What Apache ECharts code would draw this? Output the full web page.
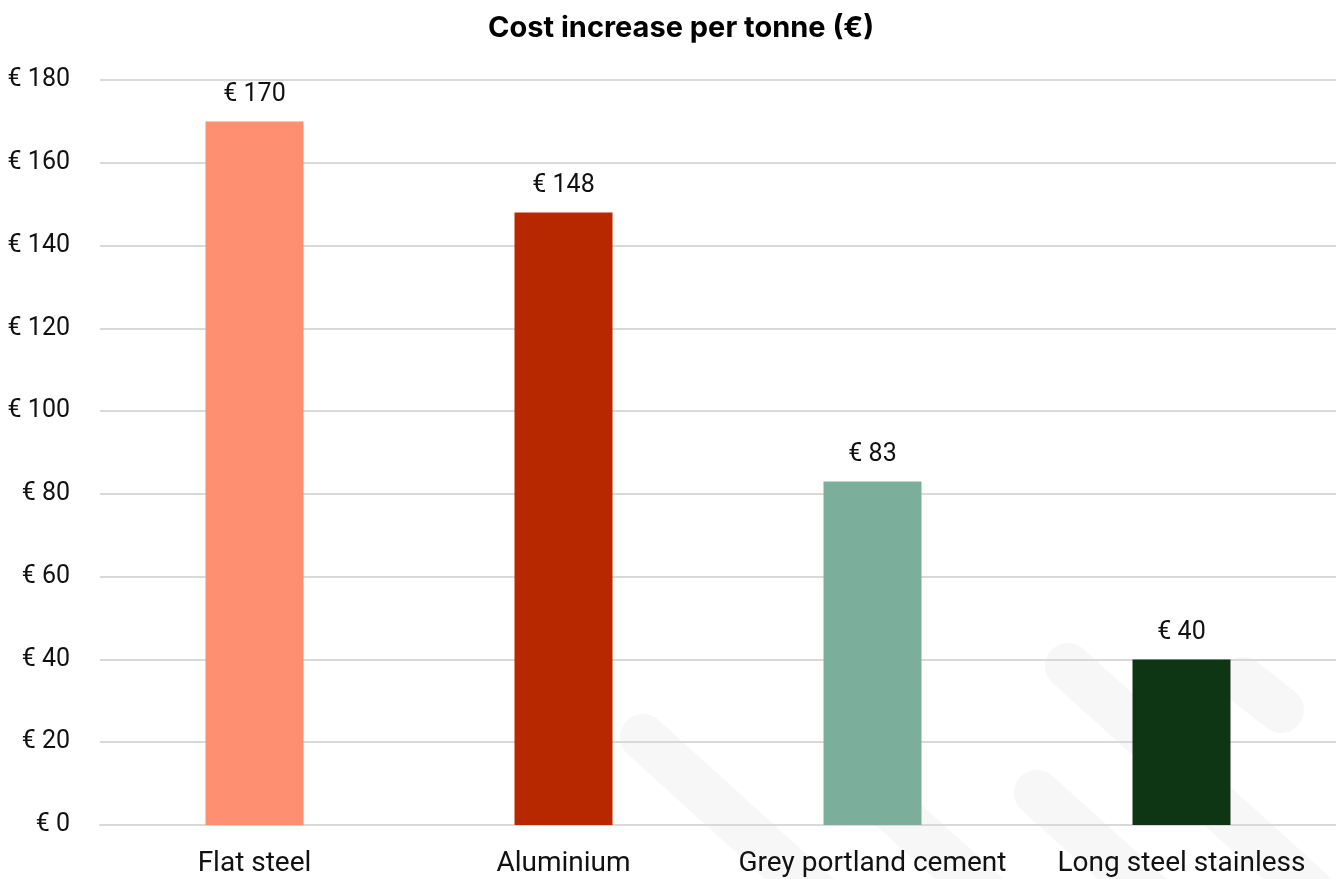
<!DOCTYPE html>
<html>
<head>
<meta charset="utf-8">
<script src="https://cdn.jsdelivr.net/npm/echarts@6/dist/echarts.min.js"></script>
<style>
  html, body { margin: 0; padding: 0; background: #ffffff; }
  #chart { width: 1336px; height: 879px; }
</style>
</head>
<body>
<div id="chart"></div>
<script>
// Cost increase per tonne by material
const categories = ['Flat steel', 'Aluminium', 'Grey portland cement', 'Long steel stainless'];
const costIncrease = [170, 148, 83, 40];
const barColors = ['#FF8F70', '#B82800', '#7BAF9C', '#0E3514'];
const yTicks = { min: 0, max: 180, interval: 20 };

const FONT = 'Roboto, "Noto Sans", sans-serif';
const euro = v => '€ ' + v;

// faint diagonal brand strokes in the background
const stripes = [
  [[643, 737], [870, 943]],
  [[882, 800], [1010, 916]],
  [[1068, 666], [1150, 740]],
  [[1243, 680], [1281, 710]],
  [[1037, 793], [1160, 904]],
  [[1195, 786], [1320, 899]]
];

const chart = echarts.init(document.getElementById('chart'), null, { renderer: 'canvas' });

chart.setOption({
  backgroundColor: '#ffffff',
  animation: false,
  title: {
    text: 'Cost increase per tonne (€)',
    left: 483,
    top: 9,
    textStyle: { fontFamily: 'Inter, sans-serif', fontWeight: 'bold', fontSize: 29, color: '#000000' }
  },
  graphic: stripes.map(pts => ({
    type: 'polyline',
    z: -10,
    silent: true,
    shape: { points: pts },
    style: { stroke: '#f7f7f7', lineWidth: 46, lineCap: 'round', fill: null }
  })),
  grid: { left: 100, right: 0, top: 80, bottom: 54, containLabel: false },
  xAxis: {
    type: 'category',
    data: categories,
    axisLine: { show: true, lineStyle: { color: '#d9d9d9', width: 2 } },
    axisTick: { show: false },
    axisLabel: { interval: 0, color: '#111111', fontFamily: FONT, fontSize: 28, margin: 25 }
  },
  yAxis: {
    type: 'value',
    min: yTicks.min,
    max: yTicks.max,
    interval: yTicks.interval,
    axisLine: { show: false },
    axisTick: { show: false },
    axisLabel: { color: '#111111', fontFamily: FONT, fontSize: 25, margin: 30, formatter: euro },
    splitLine: { lineStyle: { color: '#d9d9d9', width: 2 } }
  },
  series: [{
    type: 'bar',
    data: costIncrease.map((v, i) => ({ value: v, itemStyle: { color: barColors[i] } })),
    barWidth: 98,
    label: {
      show: true,
      position: 'top',
      distance: 14,
      color: '#111111',
      fontFamily: FONT,
      fontSize: 25,
      formatter: p => euro(p.value)
    }
  }]
});
</script>
</body>
</html>
